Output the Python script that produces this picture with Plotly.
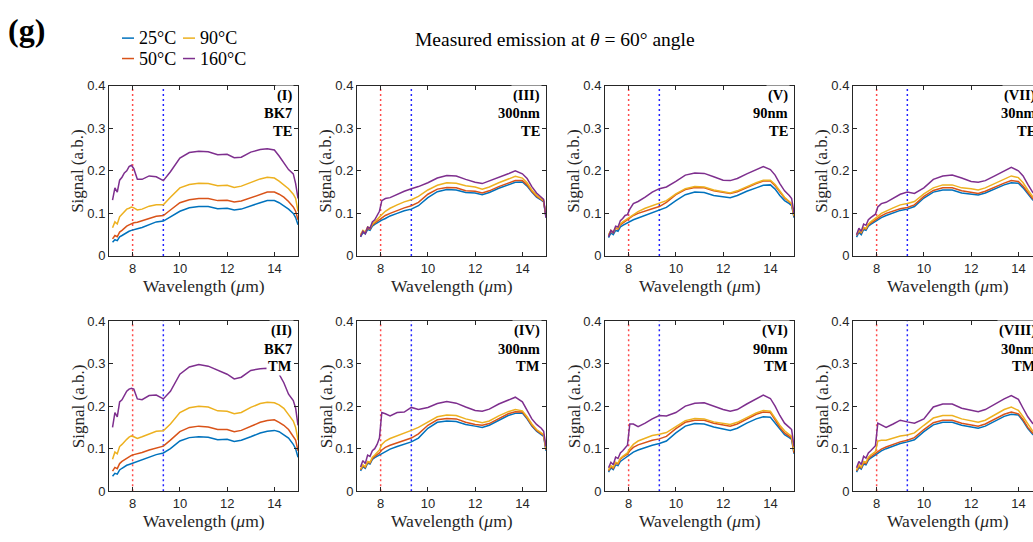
import plotly.graph_objects as go

# ---------------- data ----------------
wavelength = [7.15, 7.25, 7.35, 7.45, 7.55, 7.65, 7.75, 7.85, 7.95, 8.05, 8.2, 8.4, 8.7, 9.0, 9.3, 9.6,
              10.0, 10.4, 10.8, 11.2, 11.6, 12.0, 12.3, 12.6, 13.0, 13.4, 13.7, 14.0, 14.2, 14.4, 14.6,
              14.8, 14.9, 15.0]

temperatures = ["25°C", "50°C", "90°C", "160°C"]
temp_colors = ["#0072BD", "#D95319", "#EDB120", "#7E2F8E"]

# each panel: [25°C, 50°C, 90°C, 160°C]
panel_I = [
    [0.032, 0.038, 0.036, 0.045, 0.048, 0.052, 0.055, 0.058, 0.060, 0.062, 0.064, 0.067, 0.074, 0.080, 0.082, 0.092,
     0.105, 0.113, 0.116, 0.116, 0.111, 0.112, 0.108, 0.110, 0.118, 0.125, 0.130, 0.130, 0.125, 0.118, 0.110, 0.100, 0.090, 0.073],
    [0.040, 0.048, 0.045, 0.056, 0.060, 0.066, 0.070, 0.073, 0.076, 0.078, 0.079, 0.082, 0.088, 0.093, 0.095, 0.108,
     0.125, 0.132, 0.135, 0.135, 0.130, 0.131, 0.127, 0.129, 0.137, 0.145, 0.150, 0.150, 0.145, 0.138, 0.128, 0.115, 0.105, 0.085],
    [0.066, 0.080, 0.075, 0.092, 0.098, 0.104, 0.110, 0.112, 0.115, 0.113, 0.108, 0.110, 0.117, 0.120, 0.120, 0.138,
     0.160, 0.168, 0.171, 0.170, 0.165, 0.166, 0.161, 0.164, 0.173, 0.181, 0.185, 0.183, 0.176, 0.168, 0.158, 0.145, 0.135, 0.105],
    [0.131, 0.160, 0.150, 0.178, 0.185, 0.195, 0.200, 0.210, 0.213, 0.205, 0.180, 0.180, 0.188, 0.186, 0.177, 0.198,
     0.230, 0.243, 0.246, 0.245, 0.238, 0.239, 0.231, 0.232, 0.244, 0.250, 0.252, 0.249, 0.235, 0.220, 0.203, 0.193, 0.170, 0.135],
]
panel_II = [
    [0.035, 0.042, 0.040, 0.050, 0.054, 0.058, 0.061, 0.063, 0.065, 0.067, 0.070, 0.074, 0.080, 0.086, 0.090, 0.100,
     0.118, 0.126, 0.128, 0.127, 0.121, 0.122, 0.117, 0.120, 0.128, 0.137, 0.141, 0.143, 0.140, 0.133, 0.125, 0.110, 0.100, 0.080],
    [0.047, 0.056, 0.053, 0.065, 0.070, 0.074, 0.078, 0.081, 0.084, 0.086, 0.088, 0.091, 0.097, 0.102, 0.106, 0.120,
     0.140, 0.150, 0.153, 0.151, 0.145, 0.145, 0.140, 0.143, 0.152, 0.162, 0.166, 0.168, 0.162, 0.155, 0.145, 0.130, 0.120, 0.095],
    [0.075, 0.092, 0.088, 0.105, 0.110, 0.117, 0.122, 0.127, 0.130, 0.128, 0.124, 0.128, 0.135, 0.141, 0.142, 0.158,
     0.185, 0.196, 0.200, 0.198, 0.189, 0.188, 0.182, 0.185, 0.197, 0.206, 0.209, 0.208, 0.203, 0.195, 0.180, 0.165, 0.150, 0.120],
    [0.150, 0.185, 0.175, 0.210, 0.215, 0.225, 0.235, 0.240, 0.242, 0.240, 0.217, 0.215, 0.225, 0.226, 0.217, 0.235,
     0.275, 0.292, 0.298, 0.294, 0.284, 0.275, 0.264, 0.268, 0.284, 0.288, 0.289, 0.287, 0.275, 0.255, 0.228, 0.213, 0.195, 0.155],
]
panel_III = [
    [0.045, 0.055, 0.052, 0.062, 0.060, 0.070, 0.074, 0.078, 0.081, 0.084, 0.088, 0.094, 0.100, 0.106, 0.110, 0.118,
     0.137, 0.151, 0.156, 0.155, 0.149, 0.148, 0.144, 0.149, 0.159, 0.168, 0.173, 0.174, 0.164, 0.150, 0.138, 0.131, 0.127, 0.090],
    [0.048, 0.058, 0.054, 0.065, 0.063, 0.073, 0.077, 0.081, 0.085, 0.090, 0.095, 0.100, 0.107, 0.113, 0.118, 0.126,
     0.145, 0.157, 0.161, 0.160, 0.153, 0.152, 0.148, 0.153, 0.163, 0.172, 0.177, 0.177, 0.167, 0.152, 0.140, 0.133, 0.128, 0.092],
    [0.050, 0.060, 0.056, 0.068, 0.066, 0.075, 0.080, 0.085, 0.090, 0.097, 0.105, 0.112, 0.120, 0.127, 0.132, 0.140,
     0.155, 0.166, 0.172, 0.171, 0.165, 0.162, 0.157, 0.162, 0.172, 0.181, 0.187, 0.183, 0.172, 0.155, 0.143, 0.134, 0.130, 0.095],
    [0.045, 0.058, 0.052, 0.068, 0.065, 0.080, 0.085, 0.095, 0.105, 0.130, 0.135, 0.137, 0.145, 0.152, 0.158, 0.163,
     0.172, 0.183, 0.189, 0.188, 0.180, 0.173, 0.170, 0.176, 0.185, 0.193, 0.200, 0.193, 0.182, 0.163, 0.148, 0.137, 0.133, 0.090],
]
panel_IV = [
    [0.048, 0.058, 0.054, 0.066, 0.064, 0.075, 0.079, 0.082, 0.085, 0.089, 0.094, 0.099, 0.105, 0.111, 0.116, 0.125,
     0.148, 0.162, 0.165, 0.164, 0.157, 0.153, 0.150, 0.155, 0.167, 0.178, 0.183, 0.184, 0.170, 0.153, 0.141, 0.133, 0.129, 0.095],
    [0.050, 0.060, 0.056, 0.068, 0.066, 0.077, 0.082, 0.086, 0.090, 0.097, 0.103, 0.108, 0.114, 0.120, 0.125, 0.135,
     0.155, 0.168, 0.171, 0.170, 0.162, 0.157, 0.155, 0.159, 0.171, 0.182, 0.187, 0.186, 0.172, 0.155, 0.143, 0.135, 0.131, 0.097],
    [0.052, 0.062, 0.058, 0.070, 0.068, 0.080, 0.085, 0.090, 0.097, 0.110, 0.118, 0.124, 0.130, 0.137, 0.143, 0.150,
     0.162, 0.175, 0.179, 0.178, 0.170, 0.164, 0.161, 0.165, 0.177, 0.187, 0.192, 0.189, 0.175, 0.158, 0.145, 0.137, 0.133, 0.100],
    [0.057, 0.072, 0.065, 0.085, 0.082, 0.095, 0.100, 0.110, 0.125, 0.185, 0.182, 0.177, 0.185, 0.186, 0.197, 0.192,
     0.197, 0.206, 0.211, 0.207, 0.198, 0.190, 0.188, 0.193, 0.205, 0.215, 0.221, 0.210, 0.190, 0.170, 0.157, 0.148, 0.141, 0.105],
]
panel_V = [
    [0.043, 0.054, 0.050, 0.060, 0.058, 0.068, 0.072, 0.075, 0.078, 0.081, 0.085, 0.089, 0.095, 0.102, 0.107, 0.114,
     0.130, 0.144, 0.150, 0.149, 0.142, 0.140, 0.137, 0.142, 0.152, 0.160, 0.166, 0.167, 0.157, 0.142, 0.130, 0.123, 0.118, 0.090],
    [0.048, 0.058, 0.054, 0.065, 0.063, 0.073, 0.077, 0.081, 0.085, 0.090, 0.095, 0.100, 0.106, 0.111, 0.116, 0.126,
     0.144, 0.156, 0.161, 0.160, 0.153, 0.150, 0.147, 0.151, 0.161, 0.170, 0.176, 0.176, 0.165, 0.150, 0.136, 0.127, 0.122, 0.093],
    [0.050, 0.060, 0.056, 0.066, 0.065, 0.075, 0.080, 0.084, 0.088, 0.092, 0.098, 0.104, 0.112, 0.118, 0.123, 0.130,
     0.146, 0.158, 0.163, 0.162, 0.155, 0.152, 0.148, 0.153, 0.163, 0.172, 0.178, 0.178, 0.168, 0.152, 0.138, 0.128, 0.123, 0.095],
    [0.045, 0.060, 0.055, 0.070, 0.068, 0.083, 0.088, 0.095, 0.097, 0.110, 0.123, 0.128, 0.138, 0.150, 0.158, 0.162,
     0.175, 0.190, 0.195, 0.194, 0.186, 0.178, 0.177, 0.182, 0.193, 0.202, 0.210, 0.203, 0.190, 0.170, 0.153, 0.142, 0.135, 0.100],
]
panel_VI = [
    [0.045, 0.055, 0.051, 0.062, 0.060, 0.070, 0.074, 0.078, 0.081, 0.086, 0.092, 0.097, 0.103, 0.108, 0.112, 0.118,
     0.137, 0.153, 0.159, 0.158, 0.151, 0.147, 0.143, 0.148, 0.160, 0.170, 0.175, 0.174, 0.160, 0.145, 0.133, 0.126, 0.122, 0.088],
    [0.048, 0.058, 0.054, 0.066, 0.064, 0.075, 0.080, 0.084, 0.087, 0.095, 0.103, 0.109, 0.115, 0.120, 0.123, 0.129,
     0.147, 0.162, 0.167, 0.167, 0.160, 0.156, 0.153, 0.158, 0.170, 0.181, 0.186, 0.185, 0.168, 0.150, 0.137, 0.129, 0.125, 0.090],
    [0.050, 0.060, 0.056, 0.068, 0.066, 0.077, 0.082, 0.086, 0.090, 0.100, 0.110, 0.118, 0.125, 0.131, 0.134, 0.138,
     0.152, 0.166, 0.171, 0.170, 0.163, 0.160, 0.157, 0.162, 0.174, 0.184, 0.190, 0.188, 0.172, 0.155, 0.142, 0.133, 0.129, 0.095],
    [0.055, 0.068, 0.062, 0.080, 0.077, 0.090, 0.095, 0.102, 0.108, 0.158, 0.158, 0.152, 0.160, 0.170, 0.178, 0.177,
     0.185, 0.200, 0.207, 0.208, 0.200, 0.192, 0.188, 0.192, 0.205, 0.217, 0.226, 0.218, 0.200, 0.178, 0.160, 0.150, 0.145, 0.105],
]
panel_VII = [
    [0.044, 0.055, 0.050, 0.062, 0.060, 0.070, 0.074, 0.078, 0.082, 0.086, 0.090, 0.095, 0.101, 0.107, 0.110, 0.116,
     0.136, 0.150, 0.155, 0.155, 0.148, 0.146, 0.143, 0.148, 0.158, 0.167, 0.172, 0.171, 0.160, 0.145, 0.132, 0.124, 0.119, 0.090],
    [0.048, 0.058, 0.054, 0.065, 0.063, 0.073, 0.077, 0.081, 0.085, 0.089, 0.094, 0.100, 0.106, 0.111, 0.114, 0.120,
     0.140, 0.154, 0.160, 0.160, 0.153, 0.150, 0.147, 0.152, 0.162, 0.171, 0.177, 0.175, 0.164, 0.148, 0.135, 0.126, 0.121, 0.093],
    [0.050, 0.060, 0.056, 0.067, 0.065, 0.075, 0.080, 0.085, 0.088, 0.093, 0.100, 0.106, 0.113, 0.120, 0.123, 0.128,
     0.146, 0.160, 0.167, 0.167, 0.160, 0.158, 0.155, 0.160, 0.170, 0.180, 0.188, 0.184, 0.172, 0.155, 0.140, 0.130, 0.125, 0.097],
    [0.050, 0.065, 0.058, 0.075, 0.072, 0.085, 0.090, 0.095, 0.098, 0.115, 0.123, 0.126, 0.135, 0.145, 0.150, 0.147,
     0.160, 0.180, 0.188, 0.190, 0.183, 0.175, 0.173, 0.177, 0.188, 0.200, 0.208, 0.200, 0.188, 0.168, 0.150, 0.140, 0.133, 0.100],
]
panel_VIII = [
    [0.045, 0.056, 0.052, 0.064, 0.062, 0.073, 0.078, 0.082, 0.086, 0.090, 0.095, 0.100, 0.106, 0.112, 0.116, 0.121,
     0.140, 0.156, 0.162, 0.162, 0.155, 0.151, 0.148, 0.153, 0.165, 0.176, 0.181, 0.179, 0.165, 0.147, 0.134, 0.126, 0.122, 0.090],
    [0.048, 0.059, 0.055, 0.067, 0.065, 0.076, 0.081, 0.085, 0.088, 0.093, 0.099, 0.104, 0.110, 0.116, 0.120, 0.126,
     0.145, 0.161, 0.167, 0.167, 0.160, 0.156, 0.153, 0.158, 0.170, 0.181, 0.186, 0.182, 0.168, 0.150, 0.137, 0.129, 0.125, 0.095],
    [0.050, 0.062, 0.057, 0.070, 0.068, 0.080, 0.085, 0.089, 0.093, 0.118, 0.120, 0.120, 0.125, 0.130, 0.132, 0.137,
     0.155, 0.172, 0.178, 0.178, 0.170, 0.165, 0.162, 0.167, 0.180, 0.192, 0.198, 0.190, 0.175, 0.157, 0.142, 0.133, 0.128, 0.100],
    [0.055, 0.070, 0.063, 0.082, 0.078, 0.090, 0.095, 0.100, 0.107, 0.160, 0.156, 0.150, 0.158, 0.167, 0.163, 0.160,
     0.170, 0.198, 0.205, 0.205, 0.195, 0.190, 0.187, 0.192, 0.205, 0.217, 0.225, 0.216, 0.195, 0.175, 0.160, 0.150, 0.145, 0.105],
]

# grid order: row 1 (TE) then row 2 (TM), columns left to right
panels = [panel_I, panel_III, panel_V, panel_VII, panel_II, panel_IV, panel_VI, panel_VIII]
panel_ids = ["(I)", "(III)", "(V)", "(VII)", "(II)", "(IV)", "(VI)", "(VIII)"]
panel_samples = ["BK7", "300nm", "90nm", "30nm", "BK7", "300nm", "90nm", "30nm"]
panel_pols = ["TE", "TE", "TE", "TE", "TM", "TM", "TM", "TM"]

marker_lines = [8.0, 9.3]
marker_colors = ["#FF4A4A", "#2222FF"]

x_range = [7, 15]
y_ticks = [0, 0.1, 0.2, 0.3, 0.4]
x_ticks = [8, 10, 12, 14]

# ---------------- layout geometry (pixels) ----------------
W, H = 1033, 542
col_left = [109, 357, 605, 853]
ax_w = 189
row_top = [81, 323]
ax_h = 175
tag_offsets = [10, 28.3, 46.6]   # centre of each tag line below the axis top

SERIF = "Liberation Serif"
SANS = "Liberation Sans"
AX = "#262626"

def px(x):
    return x / W

def py(y):
    return 1 - y / H

fig = go.Figure()
layout = dict(
    width=W, height=H,
    margin=dict(l=0, r=0, t=0, b=0),
    paper_bgcolor="white", plot_bgcolor="white",
    showlegend=False,
)
annotations = []
shapes = []

for k in range(8):
    r, c = divmod(k, 4)
    n = k + 1
    xa = "xaxis" if n == 1 else f"xaxis{n}"
    ya = "yaxis" if n == 1 else f"yaxis{n}"
    xr = "x" if n == 1 else f"x{n}"
    yr = "y" if n == 1 else f"y{n}"

    left = col_left[c]
    right = left + ax_w
    top = row_top[r]
    bottom = top + ax_h
    rng = list(x_range)
    if right > W:
        rng = [x_range[0], x_range[0] + (x_range[1] - x_range[0]) * (W - left) / ax_w]
        right_dom = 1.0
    else:
        right_dom = px(right)

    layout[xa] = dict(
        domain=[px(left), right_dom], anchor=yr, range=rng,
        tickvals=x_ticks, ticks="inside", ticklen=4, tickwidth=1, tickcolor=AX,
        showline=True, linecolor=AX, linewidth=1, mirror="ticks",
        showgrid=False, zeroline=False,
        tickfont=dict(family=SANS, size=13, color=AX),
    )
    layout[ya] = dict(
        domain=[py(bottom), py(top)], anchor=xr, range=[0, 0.4],
        tickvals=y_ticks, ticktext=["0", "0.1", "0.2", "0.3", "0.4"],
        ticks="inside", ticklen=4, tickwidth=1, tickcolor=AX,
        showline=True, linecolor=AX, linewidth=1,
        mirror=("ticks" if right <= W else False),
        showgrid=False, zeroline=False,
        tickfont=dict(family=SANS, size=13, color=AX),
    )

    # marker (reference) lines
    for mx, mc in zip(marker_lines, marker_colors):
        fig.add_trace(go.Scatter(
            x=[mx, mx], y=[0, 0.4], mode="lines", xaxis=xr, yaxis=yr,
            line=dict(color=mc, width=1.5, dash="2px,3px"), hoverinfo="skip",
        ))

    # spectra
    for series, name, col in zip(panels[k], temperatures, temp_colors):
        fig.add_trace(go.Scatter(
            x=wavelength, y=series, mode="lines", name=name, xaxis=xr, yaxis=yr,
            line=dict(color=col, width=1.5),
        ))

    # panel tag (three right-aligned bold lines, each on a white box)
    for txt, off in zip([panel_ids[k], panel_samples[k], panel_pols[k]], tag_offsets):
        annotations.append(dict(
            xref="paper", yref="paper", x=px(left + ax_w - 4), y=py(top + off),
            xanchor="right", yanchor="middle", align="right", showarrow=False,
            text=f"<b>{txt}</b>",
            font=dict(family=SERIF, size=14.5, color="black"),
            bgcolor="white", borderpad=1,
        ))
    # axis titles
    annotations.append(dict(
        xref="paper", yref="paper", x=px(left - 31), y=py(top + ax_h / 2),
        xanchor="center", yanchor="middle", textangle=-90, showarrow=False,
        text="Signal (a.b.)", font=dict(family=SERIF, size=17, color=AX),
    ))
    annotations.append(dict(
        xref="paper", yref="paper", x=px(left + ax_w / 2), y=py(bottom + 31),
        xanchor="center", yanchor="middle", showarrow=False,
        text="Wavelength (<i>μ</i>m)", font=dict(family=SERIF, size=17.5, color=AX),
    ))

# figure label and title
annotations.append(dict(
    xref="paper", yref="paper", x=px(6), y=py(24), xanchor="left", yanchor="middle",
    showarrow=False, text="<b>(g)</b>", font=dict(family=SERIF, size=32, color="black"),
))
annotations.append(dict(
    xref="paper", yref="paper", x=px(555), y=py(33), xanchor="center", yanchor="middle",
    showarrow=False, text="Measured emission at <i>θ</i> = 60° angle",
    font=dict(family=SERIF, size=19.5, color="black"),
))

# manual legend (2 x 2)
legend_pos = [(122, 32), (122, 53), (183, 32), (183, 53)]  # 25, 50, 90, 160
for (lx, ly), name, col in zip(legend_pos, temperatures, temp_colors):
    shapes.append(dict(type="line", xref="paper", yref="paper",
                       x0=px(lx), x1=px(lx + 12), y0=py(ly), y1=py(ly),
                       line=dict(color=col, width=1.5)))
    annotations.append(dict(
        xref="paper", yref="paper", x=px(lx + 15), y=py(ly), xanchor="left", yanchor="middle",
        showarrow=False, text=name, font=dict(family=SERIF, size=18, color="black"),
    ))

layout["annotations"] = annotations
layout["shapes"] = shapes
fig.update_layout(**layout)

fig.write_html("out.html")
